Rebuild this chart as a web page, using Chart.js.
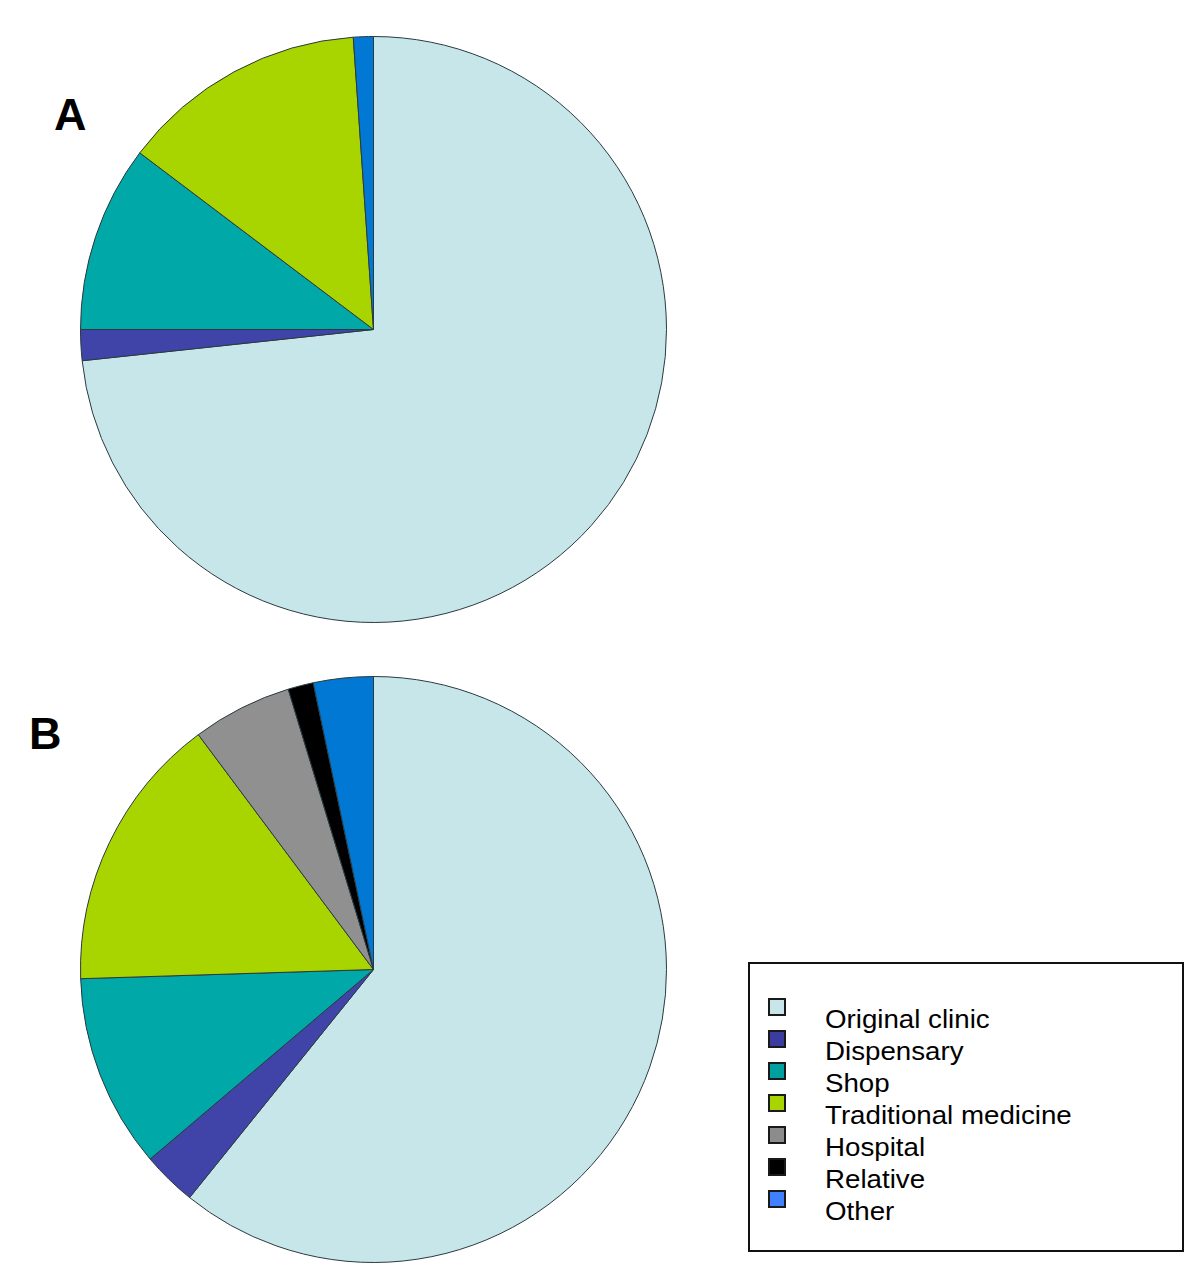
<!DOCTYPE html>
<html>
<head>
<meta charset="utf-8">
<script src="https://cdn.jsdelivr.net/npm/chart.js@4"></script>
<style>
  html, body { margin: 0; padding: 0; background: #ffffff; }
  body { width: 1200px; height: 1284px; position: relative; overflow: hidden; font-family: Arial, "Liberation Sans", sans-serif; }
  #cA { position: absolute; left: 80px; top: 36px; }
  #cB { position: absolute; left: 80px; top: 676px; }
  .panel { position: absolute; font-weight: bold; font-size: 45px; line-height: 45px; color: #000; }
  #legend { position: absolute; left: 748px; top: 962px; width: 436px; height: 290px; box-sizing: border-box; border: 2px solid #111; }
  .lg-box { position: absolute; width: 18px; height: 18px; box-sizing: border-box; border: 2px solid #1a1a1a; }
  .lg-text { position: absolute; font-size: 26px; line-height: 32px; color: #000; white-space: nowrap; transform: scaleX(1.065); transform-origin: 0 50%; }
</style>
</head>
<body>
<div class="panel" style="left:54px; top:92px;">A</div>
<div class="panel" style="left:29px; top:711px;">B</div>
<canvas id="cA" width="587" height="587"></canvas>
<canvas id="cB" width="587" height="587"></canvas>
<div id="legend"></div>
<script>
const categories = ["Original clinic", "Dispensary", "Shop", "Traditional medicine", "Hospital", "Relative", "Other"];
const valuesA = [73.3, 1.7, 10.3, 13.6, 0, 0, 1.1];
const valuesB = [60.8, 3.0, 10.7, 15.3, 5.5, 1.4, 3.3];
const sliceColors = ["#c6e6ea", "#4044a8", "#00a8a8", "#a8d400", "#909090", "#000000", "#0078d4"];
const legendColors = ["#c8e6ea", "#3c3ca0", "#00a0a0", "#a8d400", "#8c8c8c", "#000000", "#4080ff"];

function makePie(id, values) {
  new Chart(document.getElementById(id), {
    type: 'pie',
    data: {
      labels: categories,
      datasets: [{
        data: values,
        backgroundColor: sliceColors,
        borderColor: "#2a3a40",
        borderWidth: 1,
        borderAlign: 'center'
      }]
    },
    options: {
      responsive: false,
      animation: false,
      devicePixelRatio: 1,
      layout: { padding: 0 },
      plugins: {
        legend: { display: false },
        tooltip: { enabled: false },
        title: { display: false }
      }
    }
  });
}
makePie('cA', valuesA);
makePie('cB', valuesB);

const legend = document.getElementById('legend');
categories.forEach((name, i) => {
  const box = document.createElement('div');
  box.className = 'lg-box';
  box.style.left = (768 - 750) + 'px';
  box.style.top = (998 - 964 + 32 * i) + 'px';
  box.style.background = legendColors[i];
  legend.appendChild(box);
  const t = document.createElement('div');
  t.className = 'lg-text';
  t.style.left = (825 - 750) + 'px';
  t.style.top = (1003.2 - 964 + 32 * i) + 'px';
  t.textContent = name;
  legend.appendChild(t);
});
</script>
</body>
</html>
